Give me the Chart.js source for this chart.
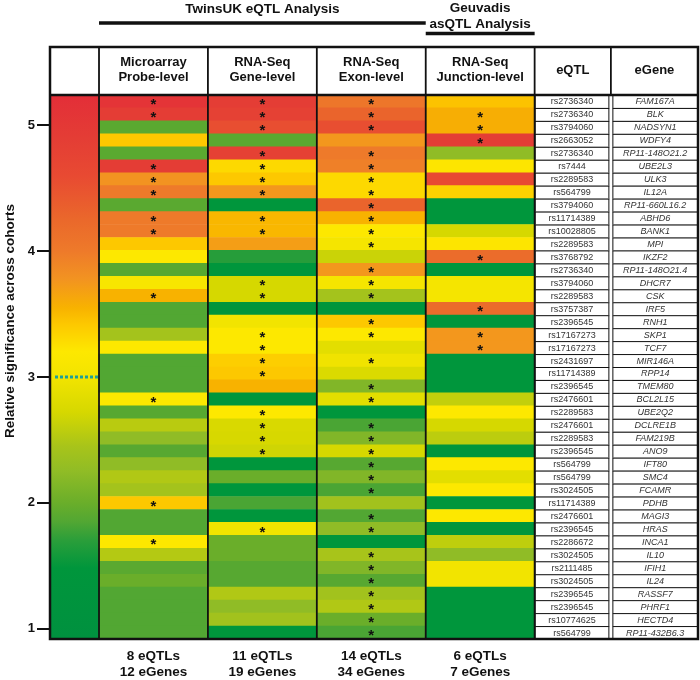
<!DOCTYPE html>
<html>
<head>
<meta charset="utf-8">
<script src="https://cdn.jsdelivr.net/npm/chart.js@4.4.1/dist/chart.umd.min.js"></script>
<style>
  html, body { margin: 0; padding: 0; background: #fff; }
</style>
</head>
<body>
<canvas id="heat" width="700" height="680"></canvas>
<script>
// rows of the table
const eqtls = ['rs2736340','rs2736340','rs3794060','rs2663052','rs2736340','rs7444','rs2289583','rs564799','rs3794060','rs11714389',
  'rs10028805','rs2289583','rs3768792','rs2736340','rs3794060','rs2289583','rs3757387','rs2396545','rs17167273','rs17167273',
  'rs2431697','rs11714389','rs2396545','rs2476601','rs2289583','rs2476601','rs2289583','rs2396545','rs564799','rs564799',
  'rs3024505','rs11714389','rs2476601','rs2396545','rs2286672','rs3024505','rs2111485','rs3024505','rs2396545','rs2396545',
  'rs10774625','rs564799'];
const egenes = ['FAM167A','BLK','NADSYN1','WDFY4','RP11-148O21.2','UBE2L3','ULK3','IL12A','RP11-660L16.2','ABHD6',
  'BANK1','MPI','IKZF2','RP11-148O21.4','DHCR7','CSK','IRF5','RNH1','SKP1','TCF7',
  'MIR146A','RPP14','TMEM80','BCL2L15','UBE2Q2','DCLRE1B','FAM219B','ANO9','IFT80','SMC4',
  'FCAMR','PDHB','MAGI3','HRAS','INCA1','IL10','IFIH1','IL24','RASSF7','PHRF1',
  'HECTD4','RP11-432B6.3'];

// relative significance per analysis
const microarray = [5.1,4.9,1.9,3.42,1.9,4.9,3.78,4.0,1.9,4.0, 4.0,3.42,3.2,1.88,3.1,3.55,1.85,1.85,2.42,3.2,
  1.85,1.85,1.85,3.2,1.88,2.55,2.25,1.88,2.25,2.5, 2.42,3.42,1.85,1.85,3.2,2.52,1.9,2.0,1.85,1.85, 1.85,1.85];
const geneLevel = [4.9,4.8,4.55,1.9,4.8,3.3,3.42,3.75,1.45,3.52, 3.52,3.7,1.68,1.45,2.72,2.72,1.4,3.0,3.2,3.2,
  3.38,3.42,3.55,1.45,3.2,2.75,2.73,2.68,1.45,2.0, 1.45,1.82,1.45,3.0,2.0,2.0,1.88,1.88,2.5,2.25, 2.4,1.45];
const exonLevel = [4.05,4.3,4.55,3.75,4.0,3.95,3.3,3.3,4.3,3.55, 3.2,3.05,2.65,3.75,3.05,2.42,1.4,3.42,3.2,2.85,
  2.98,2.77,2.15,2.85,1.45,1.82,2.15,2.72,1.88,2.15, 1.82,2.4,1.85,2.25,1.45,2.45,2.15,1.88,2.4,2.5, 2.0,1.82];
const junctionLevel = [3.45,3.58,3.58,4.9,2.25,3.22,4.6,3.35,1.45,1.45, 2.72,3.22,4.2,1.45,3.05,3.05,4.2,1.45,3.75,3.75,
  1.45,1.45,1.45,2.6,3.2,2.72,2.57,1.45,3.2,2.85, 3.2,1.45,3.2,1.45,2.58,2.25,3.0,3.0,1.45,1.45, 1.45,1.45];

// rows marked with an asterisk
const microarrayStars = [0,1,5,6,7,9,10,15,23,31,34];
const geneStars = [0,1,2,4,5,6,7,9,10,14,15,18,19,20,21,24,25,26,27,33];
const exonStars = [0,1,2,4,5,6,7,8,9,10,11,13,14,15,17,18,20,22,23,25,26,27,28,29,30,32,33,35,36,37,38,39,40,41];
const junctionStars = [1,2,3,12,16,18,19];

const columnTitles = [['Microarray','Probe-level'],['RNA-Seq','Gene-level'],['RNA-Seq','Exon-level'],['RNA-Seq','Junction-level']];
const columnTotals = [['8 eQTLs','12 eGenes'],['11 eQTLs','19 eGenes'],['14 eQTLs','34 eGenes'],['6 eQTLs','7 eGenes']];
const sigTicks = [1, 2, 3, 4, 5];

const series = [microarray, geneLevel, exonLevel, junctionLevel];
const stars = [microarrayStars, geneStars, exonStars, junctionStars];

// colour scale of the significance bar
const ramp = [
  [0.9,'#00913f'],[1.48,'#00963c'],[1.7,'#2a9e3a'],[1.85,'#52a733'],[2.0,'#6aae2a'],[2.25,'#90bc26'],
  [2.45,'#a8c41a'],[2.72,'#d6d800'],[3.0,'#f2e400'],[3.2,'#fde800'],[3.42,'#fdc800'],[3.55,'#f8b200'],
  [3.78,'#f29321'],[4.0,'#ee7a2a'],[4.25,'#ea682b'],[4.6,'#e84a32'],[4.9,'#e43d35'],[5.3,'#e32b38']
];
function hexRgb(h) { return [1,3,5].map(i => parseInt(h.slice(i, i + 2), 16)); }
function rampColor(v) {
  if (v <= ramp[0][0]) return ramp[0][1];
  for (let i = 1; i < ramp.length; i++) {
    if (v <= ramp[i][0]) {
      const t = (v - ramp[i-1][0]) / (ramp[i][0] - ramp[i-1][0]);
      const a = hexRgb(ramp[i-1][1]), b = hexRgb(ramp[i][1]);
      return 'rgb(' + a.map((x, k) => Math.round(x + (b[k] - x) * t)).join(',') + ')';
    }
  }
  return ramp[ramp.length - 1][1];
}

const FONT = '"Liberation Sans", Arial, sans-serif';

const tablePlugin = {
  id: 'tablePlugin',
  beforeDatasetsDraw(chart) {
    const { ctx, chartArea: a, scales } = chart;
    const sig = scales.sig, x = scales.x;
    // colour bar on the left
    const g = ctx.createLinearGradient(0, a.top, 0, a.bottom);
    g.addColorStop(0, rampColor(sig.max));
    ramp.forEach(([v, c]) => {
      const f = (sig.getPixelForValue(v) - a.top) / (a.bottom - a.top);
      if (f > 0 && f < 1) g.addColorStop(f, c);
    });
    g.addColorStop(1, rampColor(sig.min));
    ctx.save();
    ctx.fillStyle = g;
    ctx.fillRect(a.left, a.top, x.getPixelForValue(0) - a.left, a.bottom - a.top);
    ctx.restore();
  },
  afterDatasetsDraw(chart) {
    const { ctx, chartArea: a, scales } = chart;
    const x = scales.x, y = scales.y, sig = scales.sig;
    const rowH = (a.bottom - a.top) / egenes.length;
    const px = v => x.getPixelForValue(v);
    const headTop = a.top - 48;
    ctx.save();

    // asterisks
    ctx.fillStyle = '#111';
    ctx.font = 'bold 15px ' + FONT;
    ctx.textAlign = 'center';
    ctx.textBaseline = 'middle';
    stars.forEach((rows, c) => rows.forEach(r => {
      ctx.fillText('*', px(c + 0.5), y.getPixelForValue(r) + 3.5);
    }));

    // dotted marker at 3
    const y3 = sig.getPixelForValue(3);
    ctx.strokeStyle = '#1f9f96';
    ctx.lineWidth = 3;
    ctx.setLineDash([3, 2]);
    ctx.beginPath(); ctx.moveTo(a.left + 5, y3); ctx.lineTo(px(0), y3); ctx.stroke();
    ctx.setLineDash([]);

    // eQTL / eGene cells
    const cols = [[4, 4.7, eqtls, ''], [4.7, 5.5, egenes, 'italic ']];
    cols.forEach(([c0, c1, labels, style], k) => {
      const l = px(c0) + (k ? 1.5 : 0), r = px(c1) - (k ? 0 : 1.5);
      labels.forEach((t, i) => {
        const top = a.top + i * rowH;
        ctx.fillStyle = '#fff';
        ctx.fillRect(l, top, r - l, rowH);
        ctx.strokeStyle = '#111';
        ctx.lineWidth = 1;
        ctx.strokeRect(l + 0.5, top + 0.5, r - l - 1, rowH);
        ctx.fillStyle = '#333';
        ctx.font = style + '9px ' + FONT;
        ctx.fillText(t, (l + r) / 2, y.getPixelForValue(i) + 0.5);
      });
    });

    // grid lines of the heat map
    ctx.strokeStyle = '#111';
    ctx.lineWidth = 1.8;
    [0, 1, 2, 3, 4].forEach(v => {
      ctx.beginPath(); ctx.moveTo(px(v), headTop); ctx.lineTo(px(v), a.bottom); ctx.stroke();
    });
    ctx.beginPath(); ctx.moveTo(px(4.7), headTop); ctx.lineTo(px(4.7), a.top); ctx.stroke();
    ctx.lineWidth = 2.5;
    ctx.beginPath(); ctx.moveTo(a.left, a.top); ctx.lineTo(a.right, a.top); ctx.stroke();
    ctx.strokeRect(a.left, headTop, a.right - a.left, a.bottom - headTop);

    // header labels
    ctx.fillStyle = '#111';
    ctx.font = 'bold 13px ' + FONT;
    columnTitles.forEach((t, c) => {
      ctx.fillText(t[0], px(c + 0.5), headTop + 15);
      ctx.fillText(t[1], px(c + 0.5), headTop + 30);
    });
    ctx.fillText('eQTL', px(4.35), headTop + 23);
    ctx.fillText('eGene', px(5.1), headTop + 23);

    // totals under the columns
    ctx.font = 'bold 13.5px ' + FONT;
    columnTotals.forEach((t, c) => {
      ctx.fillText(t[0], px(c + 0.5), a.bottom + 17);
      ctx.fillText(t[1], px(c + 0.5), a.bottom + 33);
    });

    // group titles
    ctx.fillText('TwinsUK eQTL Analysis', px(1.5), 9);
    ctx.fillText('Geuvadis', px(3.5), 8);
    ctx.fillText('asQTL Analysis', px(3.5), 24);
    ctx.lineWidth = 3.5;
    ctx.beginPath(); ctx.moveTo(px(0), 23); ctx.lineTo(px(3), 23); ctx.stroke();
    ctx.beginPath(); ctx.moveTo(px(3), 33.5); ctx.lineTo(px(4), 33.5); ctx.stroke();

    // axis title
    ctx.translate(10, 321);
    ctx.rotate(-Math.PI / 2);
    ctx.fillText('Relative significance across cohorts', 0, 0);
    ctx.restore();
  }
};

new Chart(document.getElementById('heat'), {
  type: 'bar',
  data: {
    labels: egenes,
    datasets: series.map((vals, c) => ({
      label: columnTitles[c].join(' '),
      data: vals.map(() => [c, c + 1]),
      backgroundColor: vals.map(rampColor),
      borderWidth: 0,
      barPercentage: 1,
      categoryPercentage: 1,
      grouped: false
    }))
  },
  options: {
    indexAxis: 'y',
    responsive: false,
    animation: false,
    devicePixelRatio: 1,
    layout: { padding: { top: 95, bottom: 41, left: 0, right: 2 } },
    plugins: { legend: { display: false }, tooltip: { enabled: false } },
    scales: {
      x: { type: 'linear', min: -0.45, max: 5.5, display: false },
      y: { type: 'category', display: false, offset: true },
      sig: {
        type: 'linear',
        position: 'left',
        min: 0.917,
        max: 5.242,
        offset: false,
        afterBuildTicks: s => { s.ticks = sigTicks.map(v => ({ value: v })); },
        afterFit: s => { s.width = 50; },
        border: { display: false },
        grid: { offset: false, drawOnChartArea: false, tickLength: 13, tickColor: '#111', lineWidth: 2 },
        ticks: { color: '#111', padding: 2, font: { family: FONT, size: 13, weight: 'bold' } }
      }
    }
  },
  plugins: [tablePlugin]
});
</script>
</body>
</html>
